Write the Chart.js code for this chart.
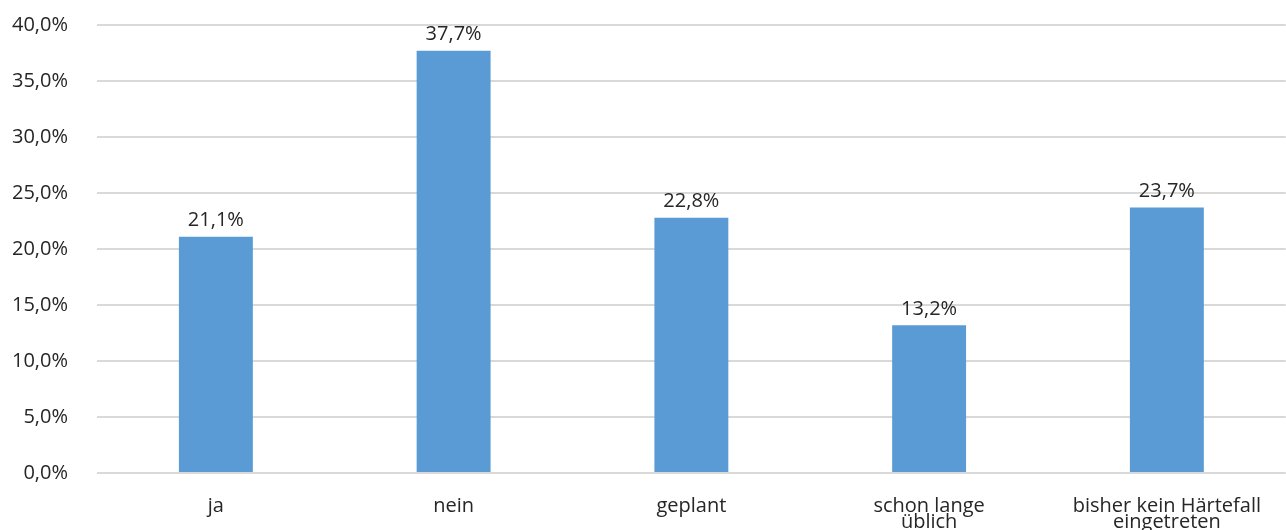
<!DOCTYPE html>
<html>
<head>
<meta charset="utf-8">
<script src="https://cdn.jsdelivr.net/npm/chart.js@4/dist/chart.umd.min.js"></script>
<style>
  html, body { margin: 0; padding: 0; background: #fff; }
  #wrap { width: 1286px; height: 530px; }
</style>
</head>
<body>
<div id="wrap"><canvas id="chart" width="1286" height="530"></canvas></div>
<script>
const categories = ['ja', 'nein', 'geplant', ['schon lange', 'üblich'], ['bisher kein Härtefall', 'eingetreten']];
const values = [21.1, 37.7, 22.8, 13.2, 23.7];
const yTicks = [0, 5, 10, 15, 20, 25, 30, 35, 40];

const fmt = v => v.toFixed(1).replace('.', ',') + '%';
const textColor = '#262626';
const fontFamily = '"Open Sans", "Noto Sans", sans-serif';

// value labels above each bar
const barLabels = {
    id: 'barLabels',
    afterDatasetsDraw(chart) {
        const ctx = chart.ctx;
        const meta = chart.getDatasetMeta(0);
        ctx.save();
        ctx.fillStyle = textColor;
        ctx.font = '20px ' + fontFamily;
        ctx.textAlign = 'center';
        ctx.textBaseline = 'bottom';
        meta.data.forEach((bar, i) => {
            ctx.fillText(fmt(values[i]), bar.x, bar.y - 6);
        });
        ctx.restore();
    }
};

new Chart(document.getElementById('chart'), {
    type: 'bar',
    data: {
        labels: categories,
        datasets: [{
            data: values,
            backgroundColor: '#5B9BD5',
            categoryPercentage: 1,
            barPercentage: 0.311
        }]
    },
    options: {
        responsive: false,
        animation: false,
        layout: { padding: { top: 25, right: 0, bottom: 0, left: 0 } },
        plugins: { legend: { display: false }, tooltip: { enabled: false } },
        scales: {
            x: {
                grid: { display: false, drawTicks: false },
                border: { display: false },
                ticks: {
                    color: textColor,
                    font: { family: fontFamily, size: 20, lineHeight: 0.82 },
                    padding: 25,
                    maxRotation: 0,
                    autoSkip: false
                },
                afterFit(scale) { scale.height = 57; }
            },
            y: {
                min: 0,
                max: 40,
                afterBuildTicks(scale) { scale.ticks = yTicks.map(v => ({ value: v })); },
                grid: { color: '#d9d9d9', lineWidth: 2, drawTicks: false },
                border: { display: false },
                ticks: {
                    color: textColor,
                    font: { family: fontFamily, size: 20 },
                    padding: 29,
                    callback: v => fmt(v)
                },
                afterFit(scale) {
                    scale.width = 97;
                    scale.paddingTop = 0;
                    scale.paddingBottom = 0;
                }
            }
        }
    },
    plugins: [barLabels]
});
</script>
</body>
</html>
